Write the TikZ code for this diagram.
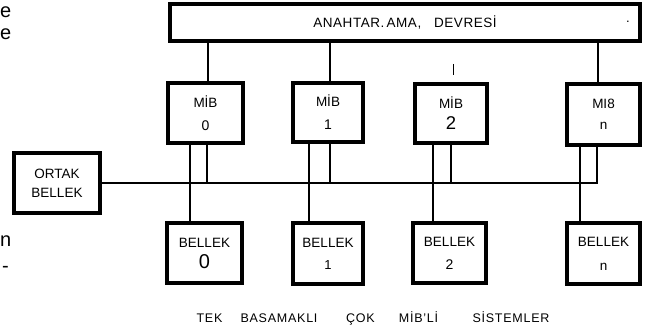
\documentclass[tikz,border=0pt]{standalone}
\usepackage{fontspec}
\setmainfont{Liberation Sans}
\begin{document}
\begin{tikzpicture}[x=1pt,y=-1pt,
  box/.style={draw, line width=3.2pt, inner sep=0pt, align=center,
    font=\fontsize{13.5}{16}\selectfont},
  wire/.style={line width=2.9pt},
  busline/.style={line width=2.3pt},
  caption/.style={inner sep=0pt, anchor=base, font=\fontsize{12.5}{14}\selectfont\addfontfeature{LetterSpace=6}},
  frag/.style={inner sep=0pt, font=\fontsize{20}{24}\selectfont}]
\useasboundingbox (0,0) rectangle (646,331);
% boxes
\node[box, minimum width=470, minimum height=37] (top) at (405,22.5)
  {\addfontfeature{LetterSpace=4}ANAHTAR.\,AMA,\ \ \ DEVRESİ};
\node[box, minimum width=75, minimum height=60] (mib0) at (205.5,113)
  {MİB\\[7pt]{\fontsize{14}{12}\selectfont 0}};
\node[box, minimum width=70, minimum height=59] (mib1) at (328,112.5)
  {MİB\\[7pt]{\fontsize{14}{11}\selectfont 1}};
\node[box, minimum width=72, minimum height=59] (mib2) at (451,113.5)
  {MİB\\[5pt]{\fontsize{18.5}{14}\selectfont 2}};
\node[box, minimum width=73, minimum height=61] (mibn) at (603.5,114.5)
  {MI8\\[5pt]{\fontsize{13.5}{12}\selectfont n}};
\node[box, minimum width=86, minimum height=60] (ortak) at (57,183)
  {ORTAK\\[3pt]BELLEK};
\node[box, minimum width=75, minimum height=60] (bel0) at (204.5,253)
  {BELLEK\\[5pt]{\fontsize{20}{17}\selectfont 0}};
\node[box, minimum width=70, minimum height=61] (bel1) at (328,253.5)
  {BELLEK\\[6pt]{\fontsize{13}{10}\selectfont 1}};
\node[box, minimum width=73, minimum height=60] (bel2) at (449.5,253)
  {BELLEK\\[7pt]{\fontsize{14}{12}\selectfont 2}};
\node[box, minimum width=73, minimum height=61] (beln) at (603.5,253.5)
  {BELLEK\\[8pt]{\fontsize{13.5}{12}\selectfont n}};
\node[inner sep=0pt, font=\fontsize{13}{13}\selectfont] (dot) at (628,22) {.};
% coordinates for vertical lines
\coordinate (t0) at (208,0);
\coordinate (t1) at (330,0);
\coordinate (tn) at (598,0);
\coordinate (a0) at (190,0); \coordinate (b0) at (207,0);
\coordinate (a1) at (309,0); \coordinate (b1) at (330,0);
\coordinate (a2) at (433,0); \coordinate (b2) at (451,0);
\coordinate (an) at (580,0); \coordinate (bn) at (597,0);
% switch to MIB
\draw[wire] (top.south -| t0) -- (mib0.north -| t0);
\draw[wire] (top.south -| t1) -- (mib1.north -| t1);
\draw[wire] (top.south -| tn) -- (mibn.north -| tn);
\coordinate (tickA) at (453,64);
\coordinate (tickB) at (453,75);
\draw[line width=0.9pt] (tickA) -- (tickB);
% bus
\draw[busline] (ortak.east) -- (ortak.east -| bn) -- (mibn.south -| bn);
% MIB to bus
\draw[wire] (mib0.south -| b0) -- (ortak.east -| b0);
\draw[wire] (mib1.south -| b1) -- (ortak.east -| b1);
\draw[wire] (mib2.south -| b2) -- (ortak.east -| b2);
% MIB to BELLEK
\draw[wire] (mib0.south -| a0) -- (bel0.north -| a0);
\draw[wire] (mib1.south -| a1) -- (bel1.north -| a1);
\draw[wire] (mib2.south -| a2) -- (bel2.north -| a2);
\draw[wire] (mibn.south -| an) -- (beln.north -| an);
% caption
\node[caption] (c1) at (209.5,322.5) {TEK};
\node[caption] (c2) at (279,322.5) {BASAMAKLI};
\node[caption] (c3) at (360.5,322.5) {ÇOK};
\node[caption] (c4) at (418.5,322.5) {MİB'Lİ};
\node[caption] (c5) at (511,322.5) {SİSTEMLER};
% fragments at left edge
\node[frag, anchor=base west] (f1) at (0,18) {e};
\node[frag, anchor=base west] (f2) at (0,40) {e};
\node[frag, anchor=base west] (f3) at (0,247) {n};
\node[frag, anchor=base west] (f4) at (2,273) {-};
\end{tikzpicture}
\end{document}
